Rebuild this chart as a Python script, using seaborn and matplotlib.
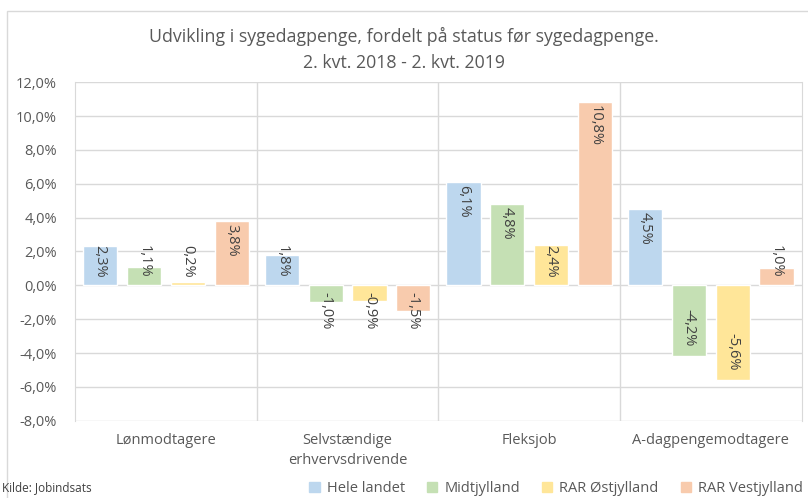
import pandas as pd
import numpy as np
import matplotlib
matplotlib.use('Agg')
import matplotlib.pyplot as plt
from matplotlib.patches import Rectangle
from matplotlib.ticker import FuncFormatter, MultipleLocator
import seaborn as sns

# data (procent)
categories = ['Lønmodtagere', 'Selvstændige\nerhvervsdrivende', 'Fleksjob', 'A-dagpengemodtagere']
series = ['Hele landet', 'Midtjylland', 'RAR Østjylland', 'RAR Vestjylland']
hele_landet = [2.3, 1.8, 6.1, 4.5]
midtjylland = [1.1, -1.0, 4.8, -4.2]
rar_oest = [0.2, -0.9, 2.4, -5.6]
rar_vest = [3.8, -1.5, 10.8, 1.0]

colors = ['#BDD7EE', '#C5E0B4', '#FFE699', '#F8CBAD']
txt = '#595959'
grid = '#D9D9D9'

df = pd.DataFrame({
    'kategori': categories * 4,
    'serie': np.repeat(series, 4),
    'vaerdi': hele_landet + midtjylland + rar_oest + rar_vest,
})

sns.set_style('white')
plt.rcParams['font.family'] = ['Open Sans', 'DejaVu Sans']

fig = plt.figure(figsize=(8.08, 4.98), dpi=100)
ax = fig.add_axes([0.093, 0.155, 0.899, 0.680])

sns.barplot(data=df, x='kategori', y='vaerdi', hue='serie', order=categories,
            hue_order=series, palette=colors, width=0.965, gap=0.22,
            saturation=1, ax=ax, legend=True, zorder=3)

ax.set_ylim(-8, 12)
ax.set_xlim(-0.5, 3.5)
ax.yaxis.set_major_locator(MultipleLocator(2))
ax.yaxis.set_major_formatter(FuncFormatter(lambda v, p: f'{v:.1f}%'.replace('.', ',')))
ax.grid(axis='y', color=grid, lw=1, zorder=0)
for xb in [0.5, 1.5, 2.5]:
    ax.axvline(xb, color=grid, lw=1, zorder=1)
for s in ax.spines.values():
    s.set_visible(False)
ax.spines['left'].set_visible(True)
ax.spines['left'].set_color(grid)
ax.spines['right'].set_visible(True)
ax.spines['right'].set_color(grid)
ax.tick_params(axis='both', length=0, colors=txt, labelsize=10.5)
ax.tick_params(axis='x', pad=9)
ax.tick_params(axis='y', pad=13)
for t in ax.get_xticklabels():
    t.set_linespacing(1.45)
ax.set_xlabel('')
ax.set_ylabel('')

# data labels, rotated
for cont in ax.containers:
    for bar in cont:
        v = bar.get_height() if bar.get_y() >= 0 else bar.get_y()
        xc = bar.get_x() + bar.get_width() / 2
        lab = f'{v:.1f}%'.replace('.', ',')
        if v >= 0:
            ax.text(xc, max(v - 0.15, 2.4), lab, rotation=-90, ha='center', va='top',
                    color='#404040', fontsize=10.5, zorder=4)
        else:
            ax.text(xc, min(v + 0.6, -2.6), lab, rotation=-90, ha='center', va='bottom',
                    color='#404040', fontsize=10.5, zorder=4)

ax.legend_.remove()
handles = [Rectangle((0, 0), 1, 1, color=c) for c in colors]
fig.legend(handles, series, loc='lower right', bbox_to_anchor=(1.01, -0.022), ncol=4,
           frameon=False, fontsize=10.5, handlelength=0.7, handleheight=0.7,
           columnspacing=1.5, handletextpad=0.5, labelcolor=txt)

fig.text(0.5, 0.90, 'Udvikling i sygedagpenge, fordelt på status før sygedagpenge.\n2. kvt. 2018 - 2. kvt. 2019',
         ha='center', va='center', fontsize=12.8, color=txt, linespacing=1.55)
fig.text(0.003, 0.008, 'Kilde: Jobindsats', ha='left', va='bottom', fontsize=8.5, color='#404040')

fig.patches.append(Rectangle((0.009, -0.1), 1.2, 1.078, transform=fig.transFigure,
                             fill=False, edgecolor=grid, lw=1))

fig.savefig('out.png', dpi=100)
